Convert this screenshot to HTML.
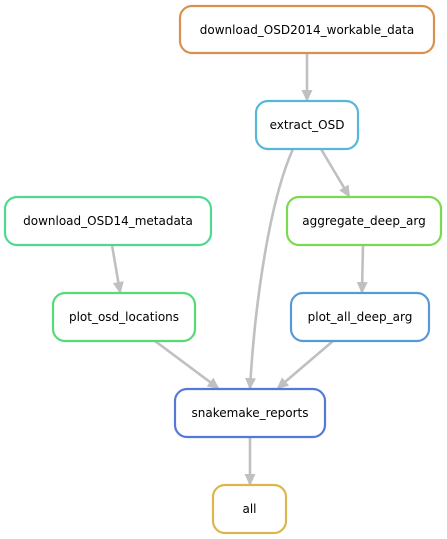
<!DOCTYPE html>
<html><head><meta charset="utf-8"><style>
html,body{margin:0;padding:0;background:#fff;}
svg{display:block;}
text{font-family:"DejaVu Sans","Liberation Sans",sans-serif;font-size:12px;fill:#000;text-anchor:middle;}
</style></head><body>
<svg width="447" height="539" viewBox="0 0 447 539" xmlns="http://www.w3.org/2000/svg">
<defs>
<marker id="a" markerWidth="12" markerHeight="12" refX="10" refY="6" orient="auto" markerUnits="userSpaceOnUse">
<path d="M0,0.5 L12,6 L0,11.5 z" fill="#c0c0c0"/>
</marker>
</defs>
<g stroke="#c0c0c0" stroke-width="2.6" fill="none" marker-end="url(#a)">
<path d="M307,54 L307,100"/>
<path d="M321,149 L349,196"/>
<path d="M293,149 C270,200 255,300 250,388"/>
<path d="M112,245 L120,292"/>
<path d="M363,245 L362,292"/>
<path d="M155,341 L218,388"/>
<path d="M333,341 L278,388"/>
<path d="M250,437 L250,484"/>
</g>
<g fill="#fff" stroke-width="2.2">
<rect x="180" y="6" width="254" height="47" rx="12" stroke="#d9914f"/>
<rect x="256" y="101" width="102" height="48" rx="12" stroke="#56b8d9"/>
<rect x="5" y="197" width="206" height="48" rx="12" stroke="#4fd98f"/>
<rect x="287" y="197" width="154" height="48" rx="12" stroke="#79d94f"/>
<rect x="53" y="293" width="142" height="48" rx="12" stroke="#56d977"/>
<rect x="291" y="293" width="138" height="48" rx="12" stroke="#569ad9"/>
<rect x="175" y="389" width="150" height="48" rx="12" stroke="#5679d9"/>
<rect x="213" y="485" width="73" height="48" rx="12" stroke="#d9b64f"/>
</g>
<text x="307" y="34">download_OSD2014_workable_data</text>
<text x="307" y="129">extract_OSD</text>
<text x="108" y="225">download_OSD14_metadata</text>
<text x="364" y="225">aggregate_deep_arg</text>
<text x="124" y="321">plot_osd_locations</text>
<text x="360" y="321">plot_all_deep_arg</text>
<text x="250" y="417">snakemake_reports</text>
<text x="249.5" y="513">all</text>
</svg>
</body></html>
